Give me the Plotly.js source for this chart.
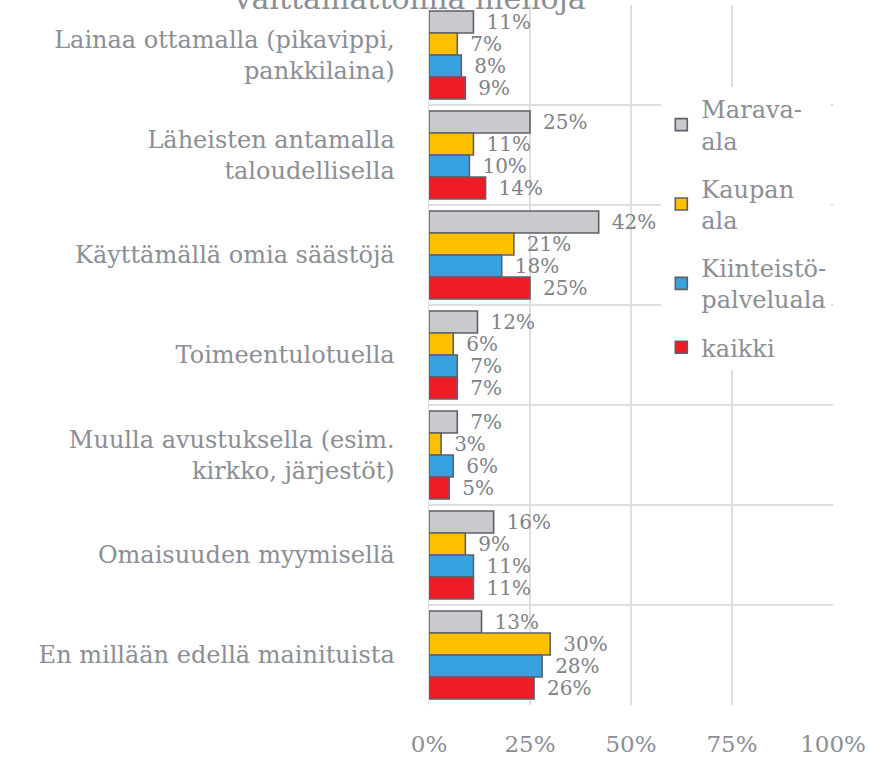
<!DOCTYPE html>
<html>
<head>
<meta charset="utf-8">
<script src="https://cdn.plot.ly/plotly-3.0.1.min.js"></script>
<style>html,body{margin:0;padding:0;background:#fff;}#chart{width:869px;height:761px;}</style>
</head>
<body>
<div id="chart"></div>
<script>
const categories = [
  "Lainaa ottamalla (pikavippi,<br>pankkilaina)",
  "Läheisten antamalla<br>taloudellisella",
  "Käyttämällä omia säästöjä",
  "Toimeentulotuella",
  "Muulla avustuksella (esim.<br>kirkko, järjestöt)",
  "Omaisuuden myymisellä",
  "En millään edellä mainituista"
];
const seriesNames = ["Marava-<br>ala", "Kaupan<br>ala", "Kiinteistö-<br>palveluala", "kaikki"];
const marava = [11, 25, 42, 12, 7, 16, 13];
const kaupan = [7, 11, 21, 6, 3, 9, 30];
const kiinteisto = [8, 10, 18, 7, 6, 11, 28];
const kaikki = [9, 14, 25, 7, 5, 11, 26];
const xTicks = [0, 25, 50, 75, 100];
const titleText = "välttämättömiä menoja";

const colors = ["#c9cacd", "#ffc000", "#36a3e0", "#ee1c25"];
const allValues = [marava, kaupan, kiinteisto, kaikki];
const font = "DejaVu Serif, serif";
const textColor = "#8b8e95";

const traces = allValues.map((vals, i) => ({
  type: "bar",
  orientation: "h",
  name: seriesNames[i],
  legendgroup: "g" + i,
  y: categories,
  x: vals,
  marker: {color: colors[i], line: {color: "#5d6068", width: 1.6}},
  text: vals.map(v => "\u2002" + v + "%"),
  textposition: "outside",
  constraintext: "none",
  cliponaxis: false,
  textfont: {family: font, size: 20, color: "#7e828a"},
  hoverinfo: "x+y"
}));

const layout = {
  width: 869, height: 761,
  paper_bgcolor: "#fff", plot_bgcolor: "#fff",
  margin: {l: 429, r: 36, t: 5, b: 56},
  barmode: "group",
  bargap: 0.12,
  bargroupgap: 0,
  title: {
    text: titleText,
    font: {family: font, size: 30, color: textColor},
    xref: "container", yref: "container",
    x: 0.472, xanchor: "center",
    y: 0.988, yanchor: "bottom"
  },
  xaxis: {
    range: [0, 100],
    tickvals: xTicks,
    ticktext: xTicks.map(v => v + "%"),
    showgrid: true, gridcolor: "#dedede", gridwidth: 1.5,
    zeroline: false,
    showline: false,
    ticks: "",
    ticklabelstandoff: 23,
    tickfont: {family: font, size: 23, color: textColor},
    fixedrange: true
  },
  yaxis: {
    type: "category",
    autorange: "reversed",
    tickson: "boundaries",
    showgrid: true, gridcolor: "#dedede", gridwidth: 1.5,
    showline: true, linecolor: "#dedede", linewidth: 1.5,
    ticks: "",
    ticklabelstandoff: 28,
    tickfont: {family: font, size: 24, color: textColor},
    fixedrange: true
  },
  showlegend: true,
  legend: {
    x: 0.575, xanchor: "left",
    y: 0.883, yanchor: "top",
    bgcolor: "#ffffff",
    font: {family: font, size: 24, color: textColor},
    traceorder: "grouped",
    tracegroupgap: 14,
    itemwidth: 30
  }
};

Plotly.newPlot("chart", traces, layout, {displayModeBar: false, staticPlot: true});
</script>
</body>
</html>
